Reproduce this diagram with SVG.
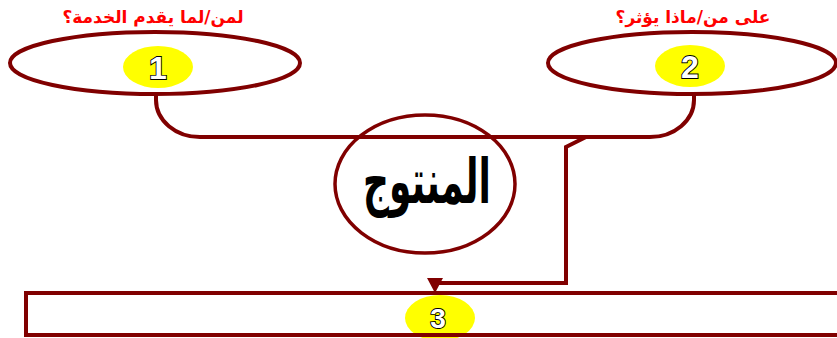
<svg xmlns="http://www.w3.org/2000/svg" width="837" height="338" viewBox="0 0 837 338">
<defs>
<style>
.ring{fill:none;stroke:#800000;stroke-width:4}
.conn{fill:none;stroke:#800000;stroke-width:4}
.badge{fill:#ffff00;stroke:none}
.num{font-family:"Liberation Sans",Arial,sans-serif;font-weight:bold;fill:#ffffff;stroke:#000000;stroke-width:1.8;text-anchor:middle;paint-order:stroke fill}
.lbl{font-family:"DejaVu Sans",sans-serif;font-weight:bold;font-size:17px;fill:#ff0000;text-anchor:middle}
</style>
</defs>
<rect width="837" height="338" fill="#ffffff"/>
<g id="connectors">
<path class="conn" d="M156,94 L156,100 A44,37 0 0 0 200,137 L650,137 A44,37 0 0 0 694,100 L694,94"/>
<path class="conn" d="M586,137 L566,147 L566,283 L436,283" stroke-linejoin="miter"/>
<polygon points="427,278 443,278 435,293" fill="#800000"/>
</g>
<g id="node1">
<text class="lbl" x="153" y="23" direction="rtl">لمن/لما يقدم الخدمة؟</text>
<ellipse class="ring" cx="155" cy="63" rx="145" ry="31"/>
<ellipse class="badge" cx="158" cy="67" rx="35" ry="21"/>
<text class="num" x="158" y="79" font-size="32">1</text>
</g>
<g id="node2">
<text class="lbl" x="693" y="23" direction="rtl">على من/ماذا يؤثر؟</text>
<ellipse class="ring" cx="692" cy="63" rx="144" ry="31"/>
<ellipse class="badge" cx="690" cy="66" rx="35" ry="21"/>
<text class="num" x="690" y="78" font-size="32">2</text>
</g>
<g id="center">
<ellipse cx="425" cy="184" rx="90" ry="69" fill="none" stroke="#800000" stroke-width="3.5"/>
<text transform="translate(427,203) scale(0.75,1.3)" font-family="'DejaVu Sans',sans-serif" font-weight="bold" font-size="48" fill="#000000" text-anchor="middle" direction="rtl">المنتوج</text>
</g>
<g id="node3">
<ellipse class="badge" cx="440" cy="318" rx="35" ry="23"/>
<rect x="26" y="293" width="830" height="42" fill="none" stroke="#800000" stroke-width="4"/>
<text class="num" x="438" y="328" font-size="28">3</text>
</g>
</svg>
